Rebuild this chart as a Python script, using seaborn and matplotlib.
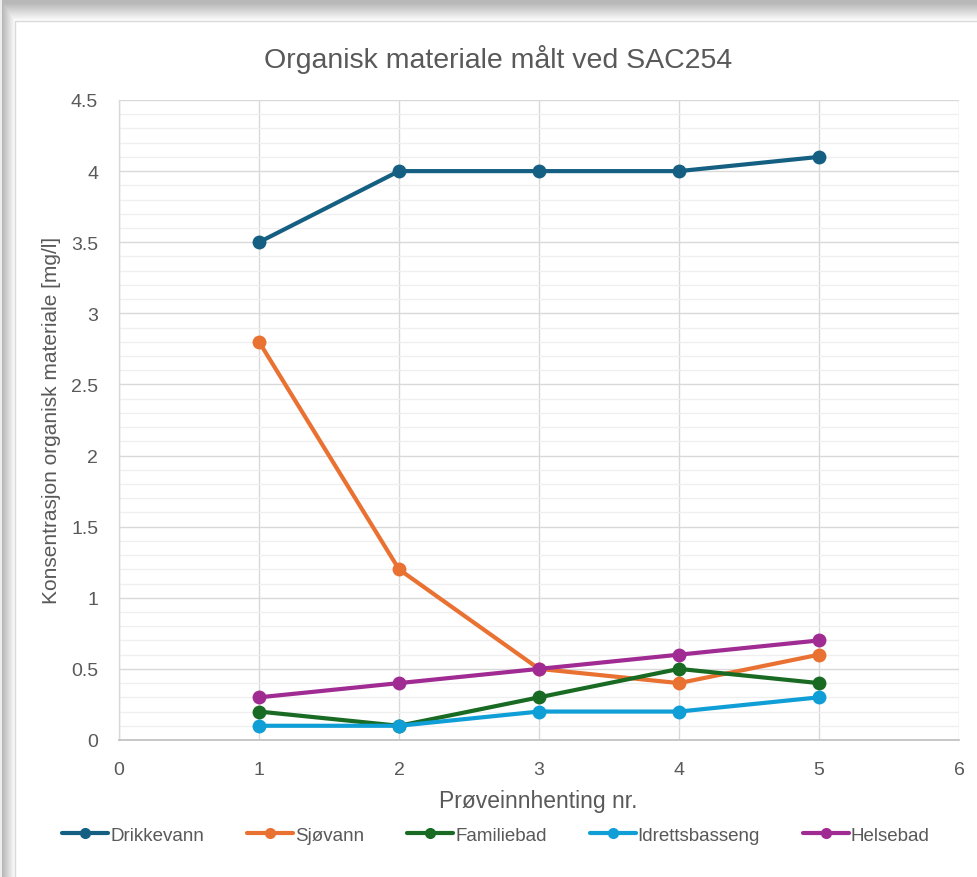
import numpy as np
import pandas as pd
import matplotlib
matplotlib.use("Agg")
import matplotlib.pyplot as plt
from matplotlib.ticker import MultipleLocator
import seaborn as sns

# Sample runs and measured concentrations [mg/l]
samples = [1, 2, 3, 4, 5]
drikkevann = [3.5, 4.0, 4.0, 4.0, 4.1]
sjovann = [2.8, 1.2, 0.5, 0.4, 0.6]
familiebad = [0.2, 0.1, 0.3, 0.5, 0.4]
idrettsbasseng = [0.1, 0.1, 0.2, 0.2, 0.3]
helsebad = [0.3, 0.4, 0.5, 0.6, 0.7]

series_names = ["Drikkevann", "Sjøvann", "Familiebad", "Idrettsbasseng", "Helsebad"]
series_values = [drikkevann, sjovann, familiebad, idrettsbasseng, helsebad]
colors = ["#156082", "#E97132", "#196B24", "#0F9ED5", "#A02B93"]

df = pd.DataFrame(
    [(s, x, v) for s, vals in zip(series_names, series_values) for x, v in zip(samples, vals)],
    columns=["serie", "prove", "verdi"],
)

sns.set_theme(style="white")
plt.rcParams["font.family"] = ["Liberation Sans", "DejaVu Sans"]

W, H = 978, 878
fig = plt.figure(figsize=(W / 100, H / 100), dpi=100)
fig.patch.set_facecolor("white")

# Worksheet backdrop with a soft shadow around the chart frame
bg = fig.add_axes([0, 0, 1, 1], zorder=-10)
bg.set_xlim(0, W)
bg.set_ylim(H, 0)
bg.axis("off")
img = np.ones((H, W))
xs = np.arange(W)
ys = np.arange(H)
shade_x = np.clip((xs - 2) / 13.0, 0, 1)
shade_y = np.clip((ys - 4) / 18.0, 0, 1)
img = np.minimum(img, 0.72 + 0.28 * shade_x[None, :])
img = np.minimum(img, 0.72 + 0.28 * shade_y[:, None])
img[:, :2] = 0.93
img[:4, :] = np.minimum(img[:4, :], 0.96)
bg.imshow(img, cmap="gray", vmin=0, vmax=1, extent=(0, W, H, 0), aspect="auto", interpolation="bilinear")
bg.plot([15, 15], [22, H], color="#d9d9d9", lw=1.0)
bg.plot([15, W], [22, 22], color="#d9d9d9", lw=1.0)

ax = fig.add_axes([119 / W, 1 - 741 / H, (959 - 119) / W, (741 - 101) / H])
ax.set_facecolor("white")

sns.lineplot(
    data=df, x="prove", y="verdi", hue="serie", hue_order=series_names,
    palette=colors, marker="o", markersize=10, markeredgewidth=0,
    linewidth=3, ax=ax, legend=False, zorder=3,
)

ax.set_xlim(0, 6)
ax.set_ylim(0, 4.5)
ax.xaxis.set_major_locator(MultipleLocator(1))
ax.yaxis.set_major_locator(MultipleLocator(0.5))
ax.yaxis.set_minor_locator(MultipleLocator(0.1))
ax.grid(which="major", axis="both", color="#d9d9d9", lw=1.0)
ax.grid(which="minor", axis="y", color="#efefef", lw=0.9)
ax.set_axisbelow(True)

ax.set_xticks(range(0, 7))
ax.set_xticklabels([str(i) for i in range(0, 7)])
ax.set_yticks(np.arange(0, 4.51, 0.5))
ax.set_yticklabels(["0", "0.5", "1", "1.5", "2", "2.5", "3", "3.5", "4", "4.5"])
ax.tick_params(axis="both", which="both", length=0, labelsize=14, colors="#595959")
ax.tick_params(axis="x", pad=15)
ax.tick_params(axis="y", pad=15)

for side in ["top", "right"]:
    ax.spines[side].set_visible(False)
ax.spines["left"].set_color("#d9d9d9")
ax.spines["bottom"].set_color("#bfbfbf")
ax.spines["left"].set_linewidth(1.0)
ax.spines["bottom"].set_linewidth(1.2)

ax.set_xlabel("")
ax.set_ylabel("")
fig.text(498 / W, 1 - 60 / H, "Organisk materiale målt ved SAC254",
         ha="center", va="center", fontsize=20.5, color="#595959")
fig.text(52 / W, 1 - 420 / H, "Konsentrasjon organisk materiale [mg/l]",
         ha="center", va="center", rotation=90, fontsize=15, color="#595959")
fig.text(538 / W, 1 - 802 / H, "Prøveinnhenting nr.",
         ha="center", va="center", fontsize=16.5, color="#595959")

handles = [
    plt.Line2D([], [], color=c, lw=3, marker="o", markersize=8, markeredgewidth=0)
    for c in colors
]
fig.legend(
    handles, series_names, loc="center", bbox_to_anchor=(496 / W, 1 - 836 / H),
    ncol=5, frameon=False, fontsize=13.5, labelcolor="#595959",
    handlelength=2.45, handletextpad=0.1, columnspacing=2.3,
)

fig.savefig("out.png", dpi=100)
